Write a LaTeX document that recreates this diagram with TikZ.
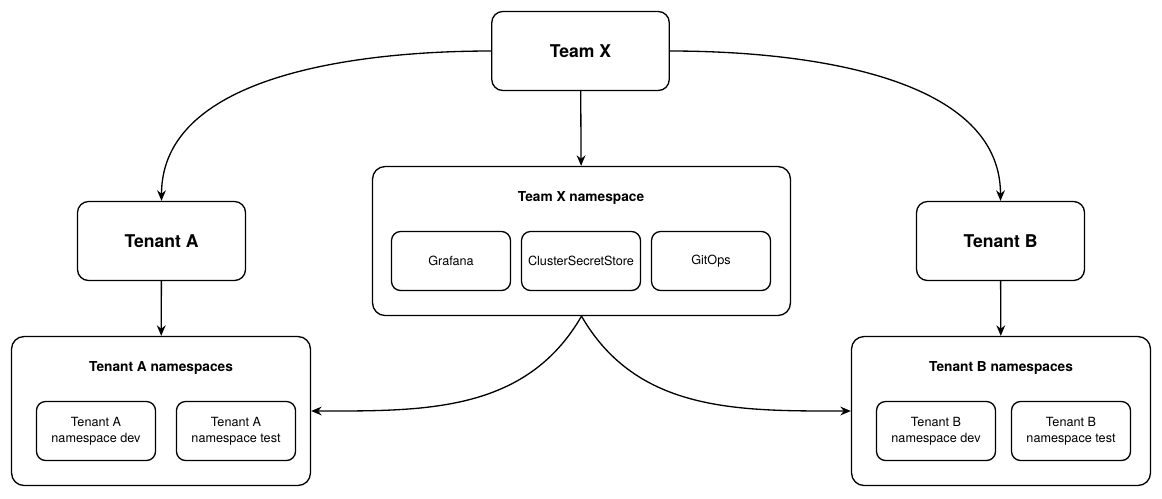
\documentclass[tikz,border=0pt]{standalone}
\usepackage{fontspec}
\setmainfont{TeX Gyre Heros}
\usetikzlibrary{arrows.meta}
\tikzset{
  bigbox/.style={draw,line width=0.75pt,rounded corners=0.22cm,
    minimum width=3.55cm,minimum height=1.58cm,font=\fontsize{10}{12}\selectfont\bfseries},
  nsbox/.style={draw,line width=0.75pt,rounded corners=0.25cm,
    minimum height=2.98cm},
  nstitle/.style={font=\fontsize{7.8}{9}\selectfont\bfseries},
  itembox/.style={draw,line width=0.75pt,rounded corners=0.18cm,
    minimum width=2.38cm,minimum height=1.18cm,align=center,
    font=\fontsize{7.2}{9}\selectfont},
  link/.style={line width=0.75pt,-{Stealth[length=6pt,width=5pt]}}
}
\begin{document}
\begin{tikzpicture}[x=0.02cm,y=-0.02cm]
    \useasboundingbox (0,0) rectangle (1162,498);
    % top level
    \node[bigbox] (teamx) at (580.5,51) {Team X};
    \node[bigbox,minimum width=3.36cm] (tenanta) at (161.5,241) {Tenant A};
    \node[bigbox,minimum width=3.36cm] (tenantb) at (1000.5,241) {Tenant B};
    % namespaces
    \node[nsbox,minimum width=8.36cm] (txns) at (581.5,241) {};
    \node[nstitle] (txtitle) at (581,198) {Team X namespace};
    \node[itembox] (grafana) at (451,261) {Grafana};
    \node[itembox] (css) at (581,261) {ClusterSecretStore};
    \node[itembox] (gitops) at (711,261) {GitOps};
    \node[nsbox,minimum width=5.98cm] (tans) at (161,411) {};
    \node[nstitle] (tatitle) at (161,368) {Tenant A namespaces};
    \node[itembox] (tadev) at (96,431) {Tenant A\\namespace dev};
    \node[itembox] (tatest) at (236,431) {Tenant A\\namespace test};
    \node[nsbox,minimum width=5.98cm] (tbns) at (1001,411) {};
    \node[nstitle] (tbtitle) at (1001,368) {Tenant B namespaces};
    \node[itembox] (tbdev) at (936,431) {Tenant B\\namespace dev};
    \node[itembox] (tbtest) at (1071,431) {Tenant B\\namespace test};
    % connectors
    \draw[link] (teamx.west) to[out=180,in=90,looseness=0.9] (tenanta.north);
    \draw[link] (teamx.east) to[out=0,in=90,looseness=0.9] (tenantb.north);
    \draw[link] (teamx) -- (txns);
    \draw[link] (tenanta) -- (tans);
    \draw[link] (tenantb) -- (tbns);
    \draw[link] (txns.south) to[out=-120,in=0] (tans.east);
    \draw[link] (txns.south) to[out=-60,in=180] (tbns.west);
\end{tikzpicture}
\end{document}
